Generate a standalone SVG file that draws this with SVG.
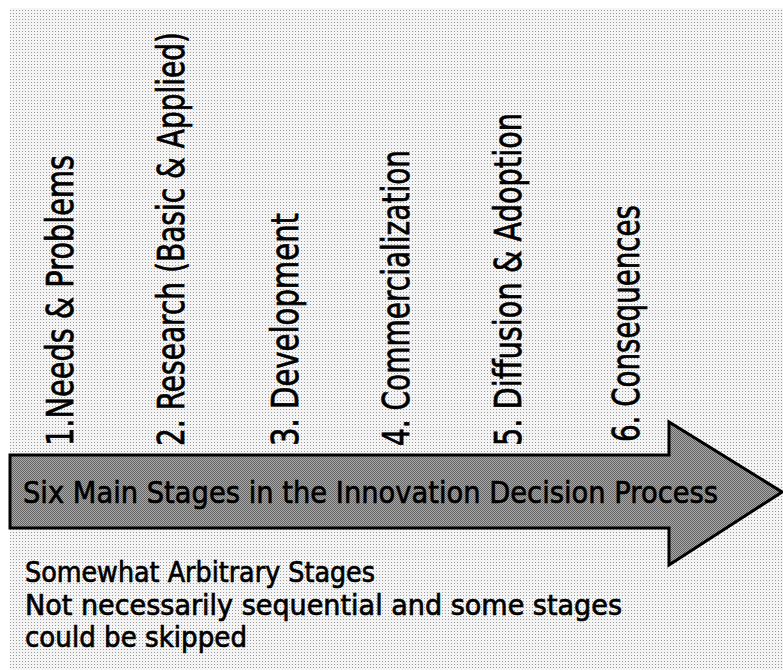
<svg xmlns="http://www.w3.org/2000/svg" width="783" height="670" viewBox="0 0 783 670">
  <defs>
    <!-- fine halftone dots for the page background -->
    <pattern id="dots" width="3" height="3" patternUnits="userSpaceOnUse">
      <rect width="3" height="3" fill="#f4f4f4"/>
      <rect x="1" y="1" width="1" height="1" fill="#999999"/>
    </pattern>
    <!-- checkered halftone for the arrow body -->
    <pattern id="checker" width="2" height="2" patternUnits="userSpaceOnUse">
      <rect width="2" height="2" fill="#ababab"/>
      <rect width="1" height="1" fill="#626262"/>
      <rect x="1" y="1" width="1" height="1" fill="#626262"/>
    </pattern>
    <style>
      text { font-family: "DejaVu Sans", "Liberation Sans", sans-serif; fill: #000; stroke: #000; stroke-width: 0.7; }
      .stage { font-size: 37px; }
      .banner { font-size: 31px; }
      .note { font-size: 28px; }
      .arrow { fill: url(#checker); stroke: #000; stroke-width: 3; stroke-linejoin: miter; }
    </style>
  </defs>

  <rect width="783" height="670" fill="#ffffff"/>
  <rect x="10" y="8" width="773" height="662" fill="url(#dots)"/>

  <!-- stage labels, reading bottom to top -->
  <g id="stage1"><text class="stage" transform="translate(73,446) rotate(-90)" textLength="291" lengthAdjust="spacingAndGlyphs">1.Needs &amp; Problems</text></g>
  <g id="stage2"><text class="stage" transform="translate(184,446) rotate(-90)" textLength="414" lengthAdjust="spacingAndGlyphs">2. Research (Basic &amp; Applied)</text></g>
  <g id="stage3"><text class="stage" transform="translate(298,446) rotate(-90)" textLength="233" lengthAdjust="spacingAndGlyphs">3. Development</text></g>
  <g id="stage4"><text class="stage" transform="translate(409,446) rotate(-90)" textLength="296" lengthAdjust="spacingAndGlyphs">4. Commercialization</text></g>
  <g id="stage5"><text class="stage" transform="translate(521,446) rotate(-90)" textLength="333" lengthAdjust="spacingAndGlyphs">5. Diffusion &amp; Adoption</text></g>
  <g id="stage6"><text class="stage" transform="translate(639,442) rotate(-90)" textLength="237" lengthAdjust="spacingAndGlyphs">6. Consequences</text></g>

  <!-- process arrow -->
  <g id="process-arrow">
    <path class="arrow" d="M10,455 L669,455 L669,422 L782,492 L669,565 L669,528 L10,528 Z"/>
    <text class="banner" x="23" y="503" textLength="695" lengthAdjust="spacingAndGlyphs">Six Main Stages in the Innovation Decision Process</text>
  </g>

  <!-- notes -->
  <g id="notes">
    <text class="note" x="25" y="582" textLength="350" lengthAdjust="spacingAndGlyphs">Somewhat Arbitrary Stages</text>
    <text class="note" x="25" y="615" textLength="597" lengthAdjust="spacingAndGlyphs">Not necessarily sequential and some stages</text>
    <text class="note" x="25" y="647" textLength="222" lengthAdjust="spacingAndGlyphs">could be skipped</text>
  </g>
</svg>
